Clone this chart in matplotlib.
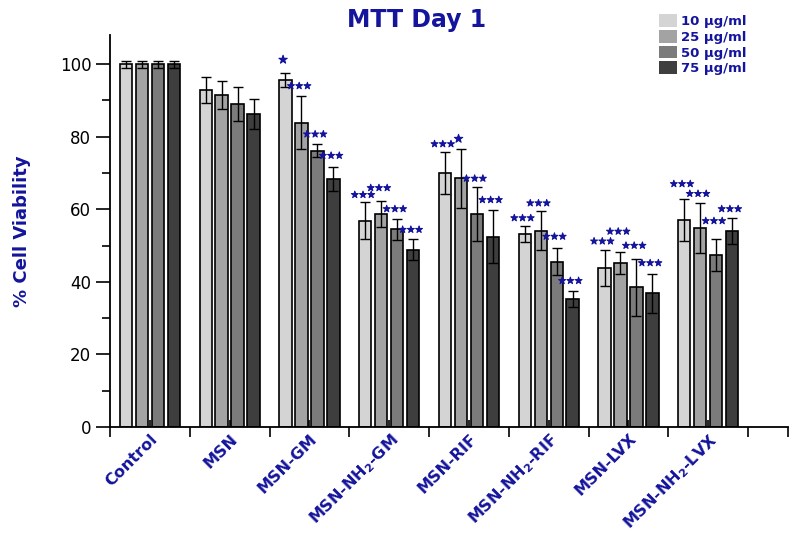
import numpy as np
import matplotlib
matplotlib.use("Agg")
import matplotlib.pyplot as plt
import matplotlib.patheffects as pe
from matplotlib.patches import Patch

groups = ["Control", "MSN", "MSN-GM", r"MSN-NH$_\mathbf{2}$-GM", "MSN-RIF",
          r"MSN-NH$_\mathbf{2}$-RIF", "MSN-LVX", r"MSN-NH$_\mathbf{2}$-LVX"]
doses = ["10 µg/ml", "25 µg/ml", "50 µg/ml", "75 µg/ml"]

# % viability per dose, one value per group
v10 = [100.0, 92.9, 95.6, 56.9, 69.9, 53.1, 43.8, 57.0]
v25 = [100.0, 91.5, 83.9, 58.7, 68.5, 54.1, 45.2, 54.9]
v50 = [100.0, 89.0, 76.2, 54.5, 58.7, 45.6, 38.5, 47.4]
v75 = [100.0, 86.3, 68.3, 48.8, 52.5, 35.3, 36.9, 54.1]

e10 = [1.0, 3.7, 1.9, 5.1, 5.8, 2.2, 4.9, 5.8]
e25 = [1.0, 3.8, 7.4, 3.5, 8.1, 5.4, 3.1, 6.9]
e50 = [1.0, 4.6, 1.7, 2.9, 7.4, 3.7, 7.9, 4.3]
e75 = [1.0, 4.1, 3.3, 2.9, 7.4, 2.3, 5.4, 3.6]

# significance marks and the height they sit at
s10 = ["", "", "*", "***", "***", "***", "***", "***"]
s25 = ["", "", "***", "***", "*", "***", "***", "***"]
s50 = ["", "", "***", "***", "***", "***", "***", "***"]
s75 = ["", "", "***", "***", "***", "***", "***", "***"]
h10 = [0, 0, 101.1, 63.9, 77.9, 57.5, 51.1, 66.9]
h25 = [0, 0, 93.9, 65.8, 79.3, 61.6, 53.8, 64.2]
h50 = [0, 0, 80.6, 60.0, 68.4, 52.4, 49.9, 56.7]
h75 = [0, 0, 74.7, 54.3, 62.5, 40.2, 45.1, 60.0]

vals = [v10, v25, v50, v75]
errs = [e10, e25, e50, e75]
stars = [s10, s25, s50, s75]
star_h = [h10, h25, h50, h75]
colors = ["#d4d4d4", "#a3a3a3", "#7b7b7b", "#3e3e3e"]
blue = "#14149c"

fig = plt.figure(figsize=(8, 5.36), dpi=100)
ax = fig.add_axes([0.1375, 0.2034, 0.8475, 0.731])

x = np.arange(1, len(groups) + 1)
step = 0.2
w = 0.155
for i in range(4):
    xi = x + (i - 1.5) * step
    ax.bar(xi, vals[i], width=w, color=colors[i], edgecolor="black", linewidth=1.2, zorder=2)
    ax.errorbar(xi, vals[i], yerr=errs[i], fmt="none", ecolor="black", elinewidth=1,
                capsize=3.3, capthick=1, zorder=3)
    for xx, s, h in zip(xi, stars[i], star_h[i]):
        if s:
            fs = 6.6 if len(s) > 1 else 8
            ax.text(xx - 0.03, h, "★" * len(s), color=blue, fontsize=fs,
                    ha="center", va="center", zorder=4,
                    path_effects=[pe.withStroke(linewidth=0.7, foreground=blue)])

ax.set_xlim(0.5, 9.0)
ax.set_ylim(0, 108)
ax.spines["top"].set_visible(False)
ax.spines["right"].set_visible(False)
for sp in ["left", "bottom"]:
    ax.spines[sp].set_linewidth(1.3)

ax.set_yticks([0, 20, 40, 60, 80, 100])
ax.set_yticks([10, 30, 50, 70, 90], minor=True)
ax.tick_params(axis="y", which="major", length=10, width=1.2, labelsize=12, direction="out")
ax.tick_params(axis="y", which="minor", length=6, width=1.2, direction="out")

ax.set_xticks(np.append(np.arange(0.5, 9.0, 1.0), 9.0))
ax.set_xticklabels([])
ax.set_xticks(x, minor=True)
ax.set_xticklabels(groups, minor=True, rotation=45, ha="right", va="top",
                   rotation_mode="anchor", color=blue, fontsize=11.5, fontweight="bold")
ax.tick_params(axis="x", which="major", length=7, width=1.2, direction="out")
ax.tick_params(axis="x", which="minor", length=5, width=1.2, direction="in", pad=3)

ax.set_ylabel("% Cell Viability", color=blue, fontsize=13, fontweight="bold")
ax.yaxis.set_label_coords(-0.117, 0.5)
fig.text(0.521, 0.962, "MTT Day 1", color=blue, fontsize=17, fontweight="bold",
         ha="center", va="center")

handles = [Patch(facecolor=c, edgecolor="none") for c in colors]
fig.legend(handles, doses, loc="upper left", bbox_to_anchor=(0.816, 0.986),
           frameon=False, borderpad=0, labelspacing=0.15, handlelength=1.3,
           handleheight=1.1, handletextpad=0.3,
           prop={"size": 9.5, "weight": "bold"}, labelcolor=blue)

fig.savefig("out.png", dpi=100)
